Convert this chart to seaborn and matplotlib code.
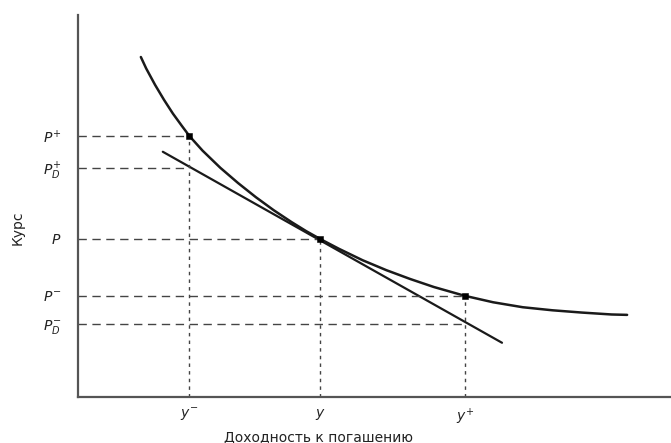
import matplotlib
matplotlib.use("Agg")
import matplotlib.pyplot as plt
import seaborn as sns
import pandas as pd

# --- data (abstract units) ---
curve_x = [1.06, 1.15, 1.30, 1.45, 1.60, 1.75, 1.88, 2.10, 2.40, 2.70, 3.00, 3.30, 3.60,
           3.85, 4.08, 4.40, 4.80, 5.20, 5.60, 6.00, 6.52, 7.00, 7.50, 8.00, 8.50, 9.00, 9.26]
curve_y = [8.90, 8.60, 8.17, 7.78, 7.42, 7.10, 6.83, 6.45, 6.00, 5.60, 5.23, 4.89, 4.58,
           4.34, 4.14, 3.88, 3.58, 3.32, 3.09, 2.88, 2.65, 2.48, 2.35, 2.27, 2.21, 2.16, 2.15]
tangent_x = [1.43, 7.15]
tangent_y = [6.42, 1.42]

yield_vals = [1.88, 4.08, 6.52]          # y-, y, y+
yield_labels = [r"$y^{-}$", r"$y$", r"$y^{+}$"]
price_vals = [6.83, 4.14, 2.65]          # P+, P, P-
price_approx = [6.00, 1.90]              # P_D+, P_D-
ytick_vals = [6.83, 6.00, 4.14, 2.65, 1.90]
ytick_labels = [r"$P^{+}$", r"$P_{D}^{+}$", r"$P$", r"$P^{-}$", r"$P_{D}^{-}$"]

sns.set_style("white")
fig = plt.figure(figsize=(6.71, 4.43), dpi=100)
ax = fig.add_axes([78/671, 46/443, 593/671, 382/443])
ax.set_xlim(0, 10)
ax.set_ylim(0, 10)

line_col = "#1a1a1a"
dash_col = "#444444"

curve = pd.DataFrame({"x": curve_x, "y": curve_y})
tang = pd.DataFrame({"x": tangent_x, "y": tangent_y})
sns.lineplot(data=curve, x="x", y="y", ax=ax, color=line_col, lw=1.8, sort=False)
sns.lineplot(data=tang, x="x", y="y", ax=ax, color=line_col, lw=1.6, sort=False)

# horizontal dashed guides
h_targets = [(price_vals[0], yield_vals[0]), (price_approx[0], yield_vals[0]),
             (price_vals[1], yield_vals[1]), (price_vals[2], yield_vals[2]),
             (price_approx[1], yield_vals[2])]
for yv, xv in h_targets:
    ax.plot([0, xv], [yv, yv], color=dash_col, lw=1.0, dashes=(6, 4))
# vertical dotted guides
for xv, yv in zip(yield_vals, price_vals):
    ax.plot([xv, xv], [0, yv], color=dash_col, lw=1.0, dashes=(2.5, 3))

pts = pd.DataFrame({"x": yield_vals, "y": price_vals})
sns.scatterplot(data=pts, x="x", y="y", ax=ax, color="black", marker="s", s=22,
                edgecolor="black", zorder=5)

for s in ["top", "right"]:
    ax.spines[s].set_visible(False)
for s in ["left", "bottom"]:
    ax.spines[s].set_color("#555555")
    ax.spines[s].set_linewidth(1.6)

ax.set_xticks(yield_vals)
ax.set_xticklabels(yield_labels, fontsize=10, color="#222222")
ax.set_yticks(ytick_vals)
ax.set_yticklabels(ytick_labels, fontsize=10, color="#222222")
ax.tick_params(axis="both", length=0)
ax.tick_params(axis="x", pad=7)
ax.tick_params(axis="y", pad=12)
ax.set_xlabel("")
ax.set_ylabel("")

fig.text(318/671, 1 - 437/443, "Доходность к погашению", ha="center", va="center",
         fontsize=10, color="#222222")
fig.text(18/671, 1 - 228/443, "Курс", ha="center", va="center", rotation=90,
         fontsize=10, color="#222222")

fig.savefig("out.png", dpi=100)
